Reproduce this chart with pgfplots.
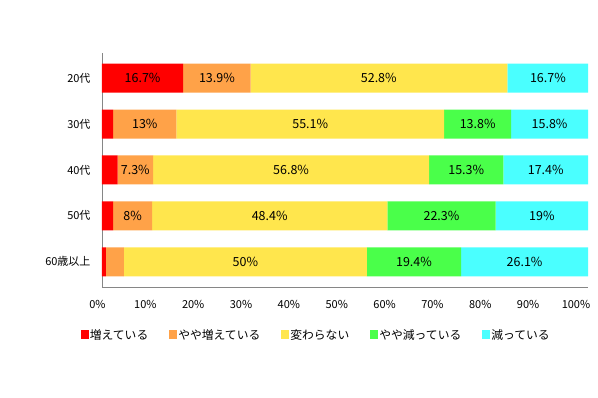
\documentclass[border=0pt]{standalone}
\usepackage{pgfplots}
\pgfplotsset{compat=1.18}
\usepackage{fontspec}
\setmainfont{Noto Sans CJK JP}
\definecolor{cRed}{RGB}{255,0,0}
\definecolor{cOrange}{RGB}{255,162,72}
\definecolor{cYellow}{RGB}{255,230,77}
\definecolor{cGreen}{RGB}{74,255,74}
\definecolor{cCyan}{RGB}{74,255,255}
\definecolor{axgray}{RGB}{134,134,134}
\begin{document}
\begin{tikzpicture}
\useasboundingbox (-102pt,-111pt) rectangle (496pt,287pt);
\begin{axis}[
  at={(0pt,0pt)}, anchor=south west,
  scale only axis, width=486pt, height=234pt,
  xbar stacked, bar width=29pt,
  xmin=0, xmax=100, ymin=-0.55, ymax=4.55, y dir=reverse,
  axis x line=bottom, axis y line=left,
  axis line style={axgray, -, line width=0.8pt},
  major tick length=0pt,
  xtick={0,10,...,100},
  xticklabel={\pgfmathsetlengthmacro\sh{-9pt-0.15pt*\tick}\hspace*{\sh}\pgfmathprintnumber{\tick}\%},
  xticklabel style={font=\fontsize{11}{13}\selectfont, yshift=-10pt},
  ytick={0,1,2,3,4},
  yticklabels={20代,30代,40代,50代,60歳以上},
  yticklabel style={font=\fontsize{11}{13}\selectfont, xshift=-8pt},
  /pgf/number format/assume math mode=true,
  legend columns=5,
  legend style={at={(0.44,-0.205)}, anchor=center, draw=none, fill=none,
    font=\fontsize{11.8}{14}\selectfont,
    nodes={inner sep=1pt},
    /tikz/every even column/.append style={column sep=20pt}},
  legend image code/.code={\fill[#1] (0pt,-4.5pt) rectangle (8pt,4.5pt);},
]
\addplot[fill=cRed, draw=none] coordinates {(16.7,0) (2.3,1) (3.2,2) (2.3,3) (0.8,4)};
\addplot[fill=cOrange, draw=none] coordinates {(13.9,0) (13,1) (7.3,2) (8,3) (3.7,4)};
\addplot[fill=cYellow, draw=none] coordinates {(52.8,0) (55.1,1) (56.8,2) (48.4,3) (50,4)};
\addplot[fill=cGreen, draw=none] coordinates {(0,0) (13.8,1) (15.3,2) (22.3,3) (19.4,4)};
\addplot[fill=cCyan, draw=none] coordinates {(16.7,0) (15.8,1) (17.4,2) (19,3) (26.1,4)};
\legend{増えている,やや増えている,変わらない,やや減っている,減っている}
\end{axis}
\begin{axis}[
  at={(0pt,0pt)}, anchor=south west,
  scale only axis, width=486pt, height=234pt,
  xmin=0, xmax=100, ymin=-0.55, ymax=4.55, y dir=reverse,
  hide axis,
]
\addplot[draw=none, nodes near coords, point meta=explicit symbolic,
  every node near coord/.append style={anchor=center, font=\fontsize{12.5}{14}\selectfont, text=black}]
  table[meta=label] {
x y label
8.35 0 16.7\%
23.65 0 13.9\%
56.95 0 52.8\%
91.75 0 16.7\%
8.8 1 13\%
42.85 1 55.1\%
77.3 1 13.8\%
92.1 1 15.8\%
6.85 2 7.3\%
38.9 2 56.8\%
74.95 2 15.3\%
91.3 2 17.4\%
6.3 3 8\%
34.5 3 48.4\%
69.85 3 22.3\%
90.5 3 19\%
29.5 4 50\%
64.2 4 19.4\%
86.95 4 26.1\%
};
\end{axis}
\end{tikzpicture}
\end{document}
